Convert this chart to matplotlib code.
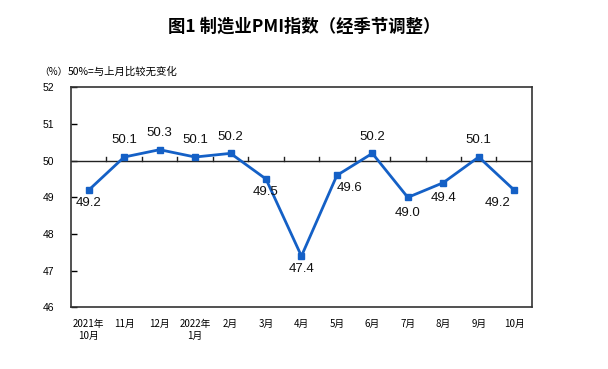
import matplotlib
matplotlib.use("Agg")
import matplotlib.pyplot as plt

plt.rcParams['font.family'] = ['Liberation Sans', 'Noto Sans CJK SC', 'DejaVu Sans']

categories = ["2021年\n10月", "11月", "12月", "2022年\n1月", "2月", "3月", "4月",
              "5月", "6月", "7月", "8月", "9月", "10月"]
pmi = [49.2, 50.1, 50.3, 50.1, 50.2, 49.5, 47.4, 49.6, 50.2, 49.0, 49.4, 50.1, 49.2]
y_ticks = [46, 47, 48, 49, 50, 51, 52]
title = "图1 制造业PMI指数（经季节调整）"
unit_text = "（%）"
note_text = "50%=与上月比较无变化"

# label offsets in points (dx, dy)
offsets = [(0, -9), (0, 12), (0, 12), (0, 12), (0, 12), (0, -9), (0, -9),
           (9, -9), (0, 12), (0, -11), (0, -11), (0, 12), (-12, -9)]

color = '#1460C6'
fig = plt.figure(figsize=(6.08, 3.69), dpi=100)
ax = fig.add_axes([0.1168, 0.1667, 0.758, 0.5967])

x = list(range(len(pmi)))
ax.plot(x, pmi, color=color, lw=2, marker='s', ms=5, zorder=3)

ax.set_xlim(-0.5, len(pmi) - 0.5)
ax.set_ylim(46, 52)
ax.set_yticks(y_ticks)
ax.set_yticklabels([str(v) for v in y_ticks], fontsize=7.5)
ax.tick_params(axis='y', direction='in', length=4, width=1, pad=12)
ax.set_xticks(x)
ax.set_xticklabels(categories, fontsize=7, family=['Noto Sans CJK SC'], linespacing=1.3)
ax.tick_params(axis='x', length=0, pad=8)
for s in ax.spines.values():
    s.set_linewidth(1.2)
    s.set_color('#333333')

# 50 reference line with category-boundary ticks
ax.plot([-0.5, len(pmi) - 0.5], [50, 50], color='#222222', lw=1, zorder=2)
for b in range(1, len(pmi)):
    ax.plot([b - 0.5, b - 0.5], [50, 50.09], color='#222222', lw=1, zorder=2)

for xi, yi, (dx, dy) in zip(x, pmi, offsets):
    ax.annotate(f"{yi:.1f}", (xi, yi), xytext=(dx, dy), textcoords='offset points',
                ha='center', va='center', fontsize=9.5, color='#111111')

fig.text(0.5, 0.927, title, ha='center', va='center', fontsize=12.5, fontweight='bold',
         family=['Noto Sans CJK SC'])
fig.text(0.064, 0.805, unit_text, ha='left', va='center', fontsize=7,
         family=['Noto Sans CJK SC'])
fig.text(0.112, 0.805, note_text, ha='left', va='center', fontsize=7.5,
         family=['Noto Sans CJK SC'])

fig.savefig("out.png", dpi=100, facecolor='white')
